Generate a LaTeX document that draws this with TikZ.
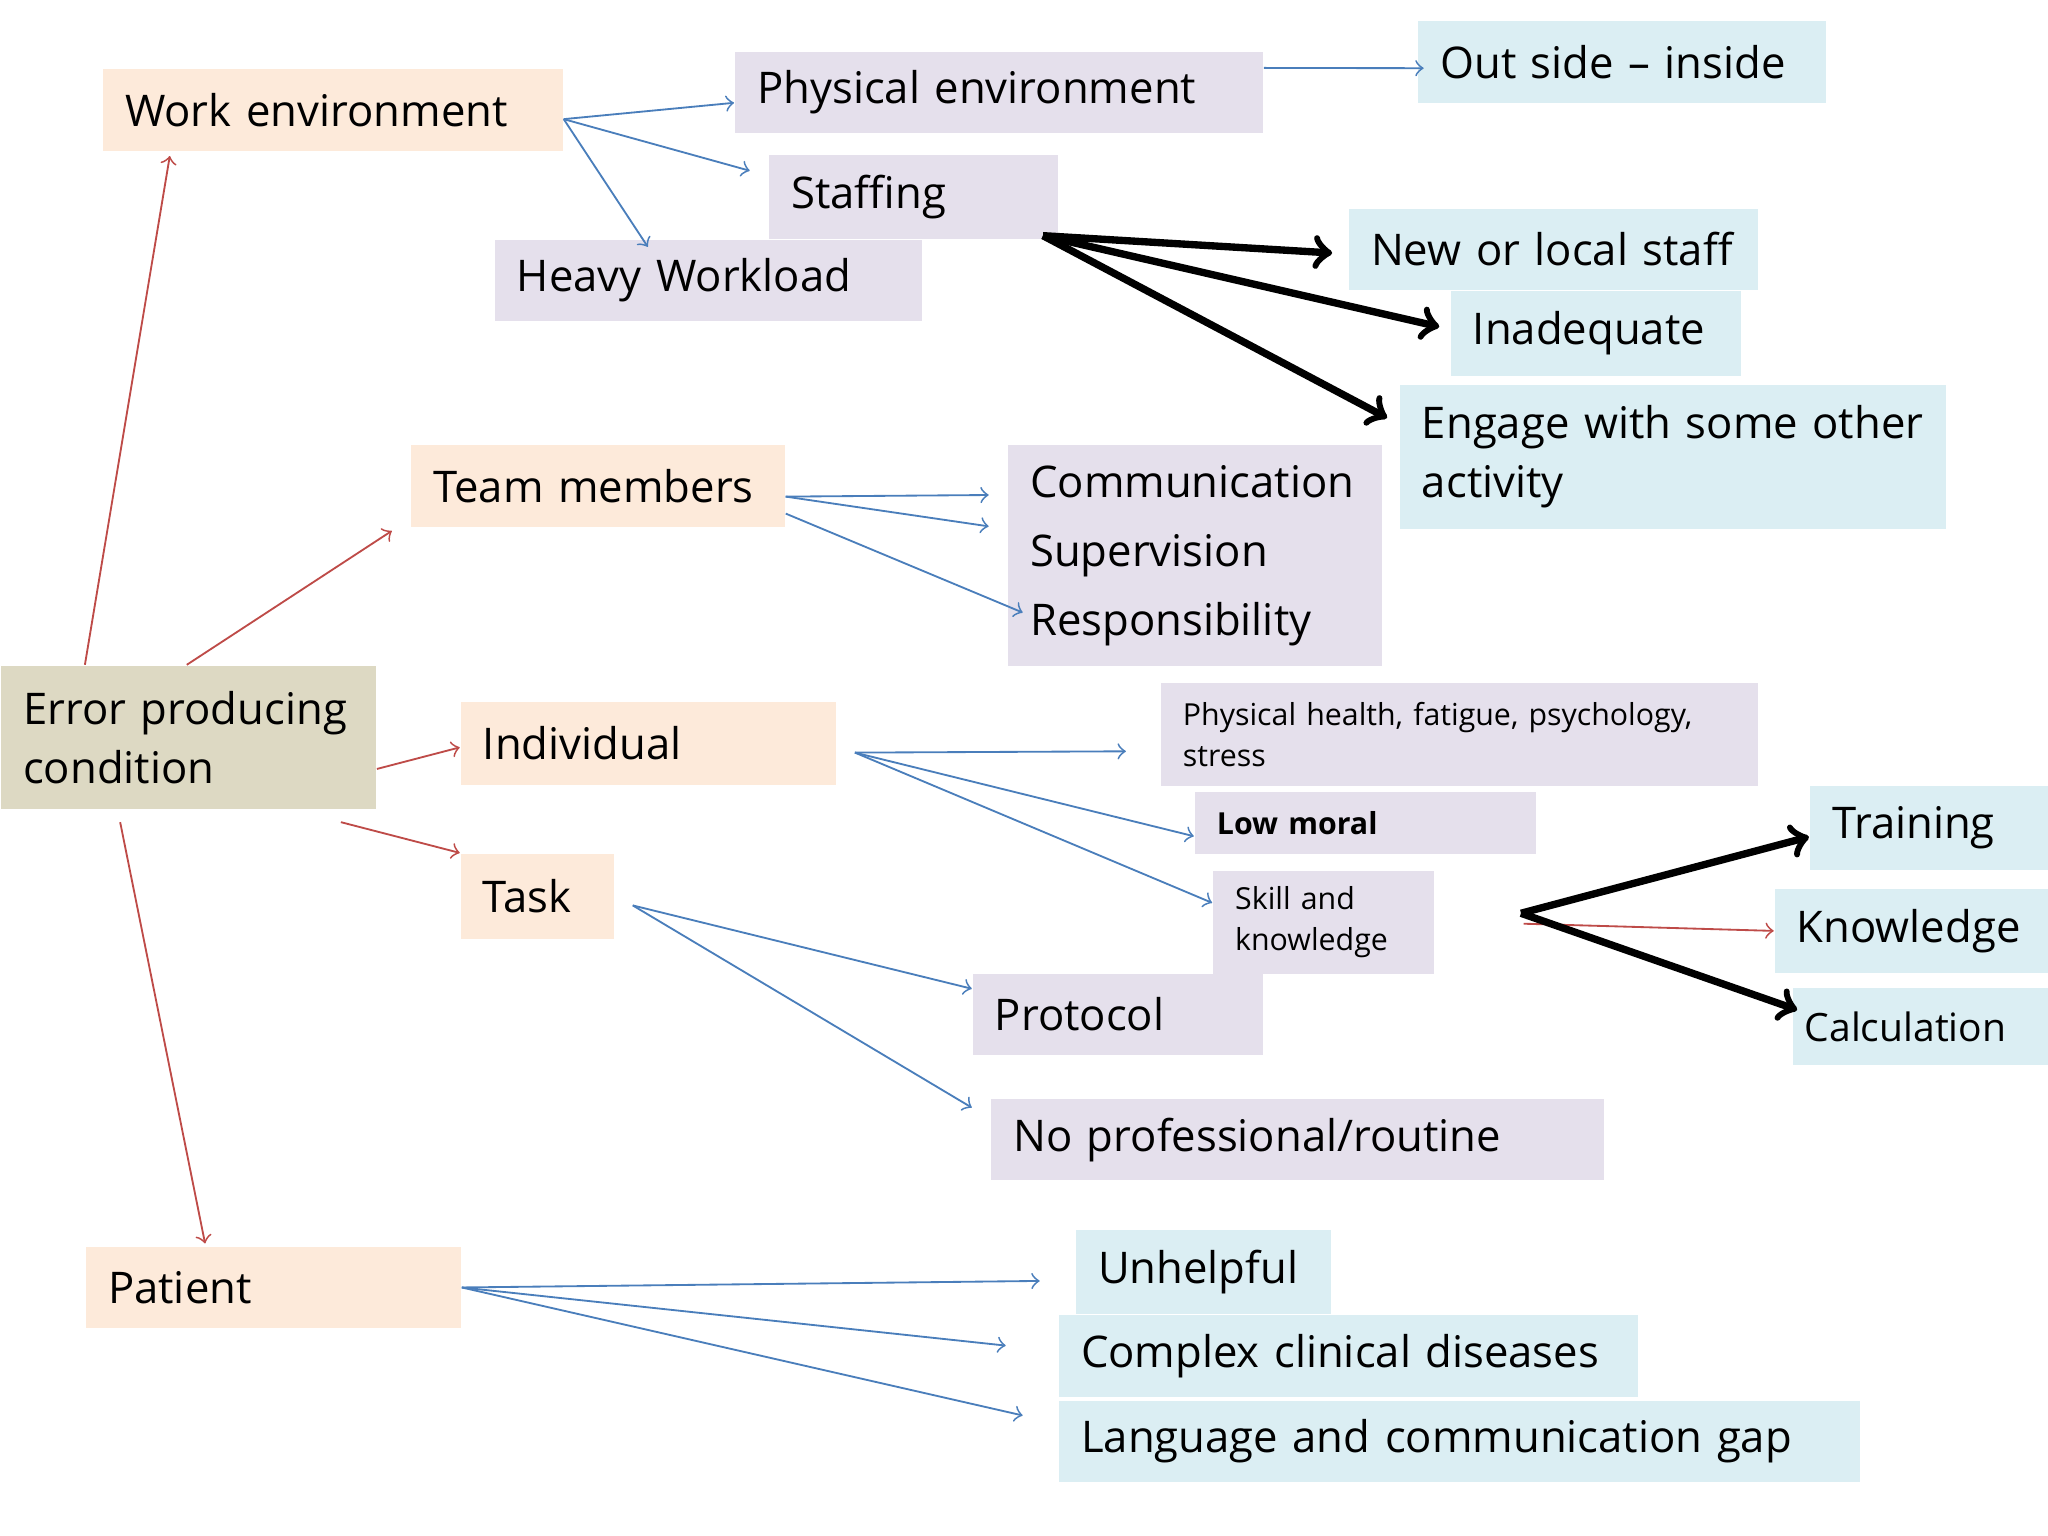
\documentclass[tikz,border=0pt]{standalone}
\usepackage{fontspec}
\setmainfont{Open Sans}
\usetikzlibrary{arrows}
\usetikzlibrary{calc}
\usetikzlibrary{positioning}
\definecolor{peach}{HTML}{FDEADA}
\definecolor{lavender}{HTML}{E5E0EC}
\definecolor{paleblue}{HTML}{DBEEF3}
\definecolor{olive}{HTML}{DDD9C3}
\definecolor{linkblue}{HTML}{4A7EBB}
\definecolor{linkred}{HTML}{BE4B48}
\tikzset{
  box/.style={rectangle, anchor=north west, inner ysep=0pt, inner xsep=1.7mm, align=left,
    font=\fontsize{9.5}{13}\selectfont},
  small/.style={font=\fontsize{6.6}{9}\selectfont},
  blue link/.style={->, >=to, draw=linkblue, thin},
  red link/.style={->, >=to, draw=linkred, thin},
  bold link/.style={->, >=to, black, ultra thick}
}

\begin{document}
\begin{tikzpicture}[x=0.01cm, y=-0.01cm]
  \useasboundingbox (0, 0) rectangle (1568, 1176);
  % boxes
  \node[box, fill=peach, minimum width=35.2mm, minimum height=6.3mm, text width=31.8mm] (work) at (78, 52) {Work environment};
  \node[box, fill=lavender, minimum width=40.4mm, minimum height=6.2mm, text width=37mm] (phys) at (562, 39) {Physical environment};
  \node[box, fill=paleblue, minimum width=31.2mm, minimum height=6.3mm, text width=27.8mm] (out) at (1085, 15) {Out side -- inside};
  \node[box, fill=lavender, minimum width=22.1mm, minimum height=6.4mm, text width=18.7mm] (staff) at (588, 118) {Staffing};
  \node[box, fill=lavender, minimum width=32.7mm, minimum height=6.2mm, text width=29.3mm] (heavy) at (378, 183) {Heavy Workload};
  \node[box, fill=paleblue, minimum width=31.3mm, minimum height=6.2mm, text width=27.9mm] (newstaff) at (1032, 159) {New or local staff};
  \node[box, fill=paleblue, minimum width=22.2mm, minimum height=6.5mm, text width=18.8mm] (inadequate) at (1110, 222) {Inadequate};
  \node[box, fill=paleblue, minimum width=41.8mm, minimum height=11mm, text width=38.4mm] (engage) at (1071, 294) {Engage with some other\\activity};
  \node[box, fill=peach, minimum width=28.6mm, minimum height=6.3mm, text width=25.2mm] (team) at (314, 340) {Team members};
  \node[box, fill=lavender, minimum width=28.6mm, minimum height=16.9mm, text width=25.2mm,
    font=\fontsize{9.5}{15}\selectfont] (duties) at (771, 340) {Communication\\Supervision\\Responsibility};
  \node[box, fill=olive, minimum width=28.7mm, minimum height=11mm, text width=25.3mm] (error) at (0, 509) {Error producing\\condition};
  \node[box, fill=peach, minimum width=28.7mm, minimum height=6.3mm, text width=25.3mm] (individual) at (352, 537) {Individual};
  \node[box, fill=lavender, small, minimum width=45.7mm, minimum height=7.9mm, text width=42.3mm] (health) at (888, 522) {Physical health, fatigue, psychology,\\stress};
  \node[box, fill=lavender, small, minimum width=26.1mm, minimum height=4.7mm, text width=22.7mm] (moral) at (914, 606) {\textbf{Low moral}};
  \node[box, fill=lavender, small, minimum width=16.9mm, minimum height=7.9mm, text width=13.5mm] (skill) at (928, 666) {Skill and\\knowledge};
  \node[box, fill=paleblue, minimum width=18.3mm, minimum height=6.4mm, text width=14.9mm] (training) at (1385, 601) {Training};
  \node[box, fill=paleblue, minimum width=21mm, minimum height=6.4mm, text width=17.6mm] (knowledge) at (1358, 680) {Knowledge};
  \node[box, fill=paleblue, minimum width=19.6mm, minimum height=5.9mm, text width=17.8mm, inner xsep=0.8mm,
    font=\fontsize{8.5}{11}\selectfont] (calc) at (1372, 756) {Calculation};
  \node[box, fill=peach, minimum width=11.7mm, minimum height=6.5mm, text width=8.3mm] (task) at (352, 653) {Task};
  \node[box, fill=lavender, minimum width=22.2mm, minimum height=6.2mm, text width=18.8mm] (protocol) at (744, 745) {Protocol};
  \node[box, fill=lavender, minimum width=46.9mm, minimum height=6.2mm, text width=43.5mm] (routine) at (758, 841) {No professional/routine};
  \node[box, fill=peach, minimum width=28.7mm, minimum height=6.2mm, text width=25.3mm] (patient) at (65, 954) {Patient};
  \node[box, fill=paleblue, minimum width=19.5mm, minimum height=6.4mm, text width=16.1mm] (unhelpful) at (823, 941) {Unhelpful};
  \node[box, fill=paleblue, minimum width=44.3mm, minimum height=6.3mm, text width=40.9mm] (complex) at (810, 1006) {Complex clinical diseases};
  \node[box, fill=paleblue, minimum width=61.3mm, minimum height=6.2mm, text width=57.9mm] (language) at (810, 1072) {Language and communication gap};

  % red links from the condition
  \draw[red link] ($(error.north west)+(65,0)$) -- ($(work.south west)+(52,3)$);
  \draw[red link] ($(error.north west)+(143,0)$) -- ($(team.south west)+(-14,2)$);
  \draw[red link] ($(error.east)+(0,24)$) -- ($(individual.west)+(0,3)$);
  \draw[red link] ($(error.south west)+(261,9)$) -- ($(task.north west)+(0,0)$);
  \draw[red link] ($(error.south west)+(92,9)$) -- ($(patient.north west)+(92,-2)$);
  \draw[red link] ($(skill.east)+(68,1)$) -- (knowledge.west);

  % blue links
  \draw[blue link] ($(work.east)+(0,7)$) -- ($(phys.west)+(0,8)$);
  \draw[blue link] ($(work.east)+(0,7)$) -- ($(staff.west)+(-14,-20)$);
  \draw[blue link] ($(work.east)+(0,7)$) -- ($(heavy.north west)+(118,6)$);
  \draw[blue link] ($(phys.north east)+(0,13)$) -- ($(out.west)+(5,5)$);
  \draw[blue link] ($(team.east)+(0,8)$) -- ($(duties.north west)+(-14,39)$);
  \draw[blue link] ($(team.east)+(0,8)$) -- ($(duties.north west)+(-14,63)$);
  \draw[blue link] ($(team.east)+(0,21)$) -- ($(duties.north west)+(12,129)$);
  \draw[blue link] ($(individual.east)+(14,7)$) -- ($(health.west)+(-26,13)$);
  \draw[blue link] ($(individual.east)+(14,7)$) -- ($(moral.west)+(0,10)$);
  \draw[blue link] ($(individual.east)+(14,7)$) -- ($(skill.west)+(0,-15)$);
  \draw[blue link] ($(task.east)+(14,7)$) -- ($(protocol.north west)+(0,12)$);
  \draw[blue link] ($(task.east)+(14,7)$) -- ($(routine.north west)+(-14,7)$);
  \draw[blue link] (patient.east) -- ($(unhelpful.west)+(-27,7)$);
  \draw[blue link] (patient.east) -- ($(complex.west)+(-40,-8)$);
  \draw[blue link] (patient.east) -- ($(language.west)+(-27,-20)$);

  % bold links
  \draw[bold link] ($(staff.south east)+(-12,-3)$) -- ($(newstaff.west)+(-12,3)$);
  \draw[bold link] ($(staff.south east)+(-12,-3)$) -- ($(inadequate.west)+(-8,-5)$);
  \draw[bold link] ($(staff.south east)+(-12,-3)$) -- ($(engage.north west)+(-9,26)$);
  \draw[bold link] ($(skill.east)+(66,-7)$) -- ($(training.west)+(0,7)$);
  \draw[bold link] ($(skill.east)+(66,-7)$) -- ($(calc.west)+(4,-13)$);
\end{tikzpicture}
\end{document}
